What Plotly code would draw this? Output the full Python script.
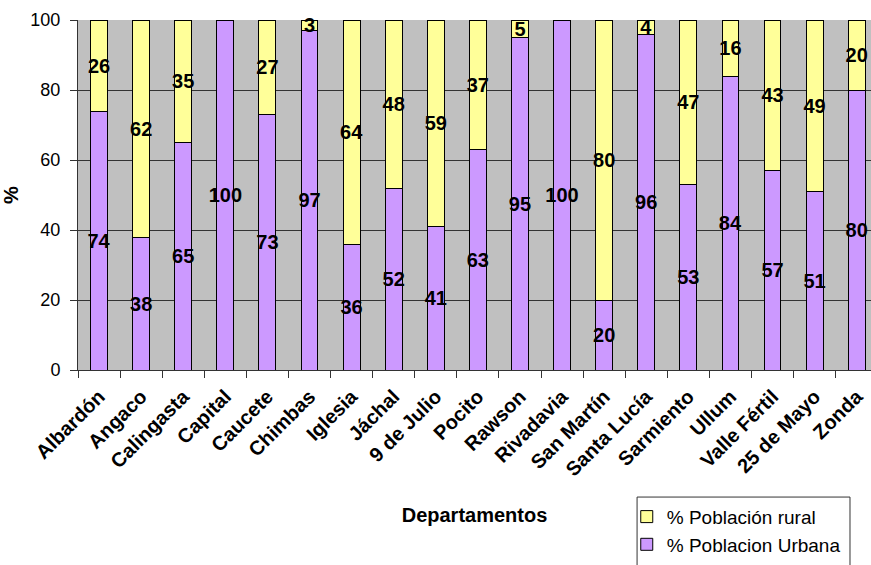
import plotly.graph_objects as go

# Departamentos de San Juan
departamentos = ["Albardón", "Angaco", "Calingasta", "Capital", "Caucete", "Chimbas",
                 "Iglesia", "Jáchal", "9 de Julio", "Pocito", "Rawson", "Rivadavia",
                 "San Martín", "Santa Lucía", "Sarmiento", "Ullum", "Valle Fértil",
                 "25 de Mayo", "Zonda"]

urbana = [74, 38, 65, 100, 73, 97, 36, 52, 41, 63, 95, 100, 20, 96, 53, 84, 57, 51, 80]
rural = [26, 62, 35, 0, 27, 3, 64, 48, 59, 37, 5, 0, 80, 4, 47, 16, 43, 49, 20]

y_ticks = [0, 20, 40, 60, 80, 100]


def labels(values):
    return [str(v) if v > 0 else "" for v in values]


FONT = "Liberation Sans, Arial"
label_font = dict(family=FONT, size=20, color="black")

fig = go.Figure()
fig.add_trace(go.Bar(
    x=departamentos, y=urbana, name="% Poblacion Urbana",
    marker=dict(color="#CC99FF", line=dict(color="black", width=1)),
    text=labels(urbana), textposition="inside", insidetextanchor="middle",
    textangle=0, constraintext="none", textfont=label_font,
    texttemplate="<b>%{text}</b>", cliponaxis=False,
))
fig.add_trace(go.Bar(
    x=departamentos, y=rural, name="% Población rural",
    marker=dict(color="#FFFF99", line=dict(color="black", width=1)),
    text=labels(rural), textposition="inside", insidetextanchor="middle",
    textangle=0, constraintext="none", textfont=label_font,
    texttemplate="<b>%{text}</b>", cliponaxis=False,
))

# legend frame
fig.add_shape(type="rect", xref="paper", yref="paper",
              x0=0.705, x1=0.9735, y0=-0.363, y1=-0.7,
              line=dict(color="#333333", width=1), fillcolor="white", layer="below")

fig.update_layout(
    width=871, height=565,
    barmode="stack", bargap=0.6,
    plot_bgcolor="#C0C0C0", paper_bgcolor="white",
    margin=dict(l=78, r=0, t=20, b=195),
    font=dict(family=FONT, color="black"),
    legend=dict(
        x=0.692, y=-0.365, xanchor="left", yanchor="top",
        traceorder="reversed",
        borderwidth=0, bgcolor="rgba(0,0,0,0)",
        font=dict(size=19),
    ),
    xaxis=dict(
        range=[-0.5, 18.34],
        tickangle=-45, tickson="boundaries", ticks="outside", ticklen=7,
        tickcolor="#333333", tickwidth=1, ticklabelstandoff=6,
        tickfont=dict(size=20, family=FONT),
        ticktext=[f"<b>{d}</b>" for d in departamentos],
        tickvals=departamentos,
        showline=True, linecolor="#333333", linewidth=1,
        title=dict(text="<b>Departamentos</b>", font=dict(size=20), standoff=28),
    ),
    yaxis=dict(
        range=[0, 100], tickvals=y_ticks,
        ticks="outside", ticklen=7, tickcolor="#333333", ticklabelstandoff=6,
        tickfont=dict(size=18),
        showgrid=True, gridcolor="#333333", gridwidth=1,
        showline=True, linecolor="#333333", linewidth=1,
        zeroline=False,
        title=dict(text="<b>%</b>", font=dict(size=20), standoff=8),
    ),
)

fig.write_html("out.html")
